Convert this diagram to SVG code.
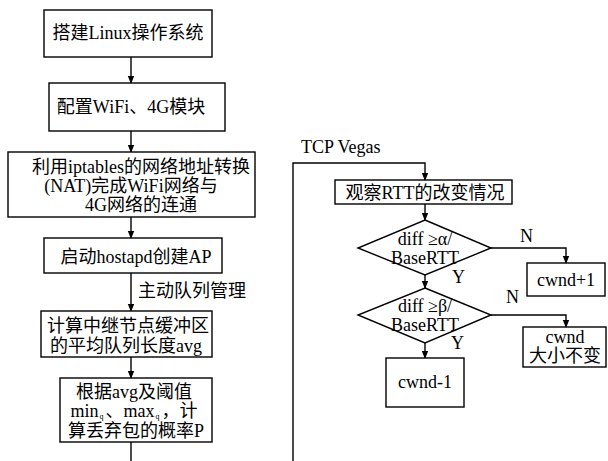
<svg xmlns="http://www.w3.org/2000/svg" width="608" height="461" viewBox="0 0 608 461">
<style>
.b{fill:#fff;stroke:#000;stroke-width:1.4}
.l{fill:none;stroke:#000;stroke-width:1.4}
text{font-family:"Liberation Serif","Noto Sans CJK SC",serif;font-size:18px;fill:#000}
.m{text-anchor:middle}
</style>
<defs>
<marker id="a" markerWidth="8" markerHeight="8" refX="7" refY="4" orient="auto" markerUnits="userSpaceOnUse">
<path d="M0,0.8 L8,4 L0,7.2 Z" fill="#000"/>
</marker>
</defs>
<rect width="608" height="461" fill="#fff"/>
<g id="connectors">
<line class="l" x1="131" y1="57" x2="131" y2="83" marker-end="url(#a)"/>
<line class="l" x1="131" y1="131" x2="131" y2="152" marker-end="url(#a)"/>
<line class="l" x1="131" y1="217" x2="131" y2="238" marker-end="url(#a)"/>
<line class="l" x1="131" y1="273" x2="131" y2="311" marker-end="url(#a)"/>
<line class="l" x1="131" y1="357" x2="131" y2="378" marker-end="url(#a)"/>
<line class="l" x1="131" y1="442" x2="131" y2="461"/>
<polyline class="l" points="293,461 293,163 425,163 425,180" marker-end="url(#a)"/>
<line class="l" x1="425" y1="204" x2="425" y2="220" marker-end="url(#a)"/>
<line class="l" x1="425" y1="275" x2="425" y2="288" marker-end="url(#a)"/>
<polyline class="l" points="491,248 566,248 566,263" marker-end="url(#a)"/>
<polyline class="l" points="491,315 566,315 566,327" marker-end="url(#a)"/>
<line class="l" x1="425" y1="343" x2="425" y2="358" marker-end="url(#a)"/>
<text x="138" y="297">主动队列管理</text>
<text x="301" y="153">TCP Vegas</text>
<text x="520" y="242">N</text>
<text x="452" y="283">Y</text>
<text x="506" y="303">N</text>
<text x="451" y="349">Y</text>
</g>
<g id="n1"><rect class="b" x="44" y="10" width="168" height="47"/><text class="m" x="128" y="39">搭建Linux操作系统</text></g>
<g id="n2"><rect class="b" x="49" y="83" width="176" height="48"/><text class="m" x="131" y="113">配置WiFi、4G模块</text></g>
<g id="n3"><rect class="b" x="8" y="152" width="247" height="65"/>
<text class="m" x="141" y="173">利用iptables的网络地址转换</text>
<text class="m" x="131" y="192">(NAT)完成WiFi网络与</text>
<text class="m" x="141" y="211">4G网络的连通</text></g>
<g id="n4"><rect class="b" x="44" y="238" width="178" height="35"/><text class="m" x="136" y="263">启动hostapd创建AP</text></g>
<g id="n5"><rect class="b" x="41" y="311" width="171" height="46"/>
<text class="m" x="128" y="332">计算中继节点缓冲区</text>
<text class="m" x="126" y="352">的平均队列长度avg</text></g>
<g id="n6"><rect class="b" x="60" y="378" width="152" height="64"/>
<text class="m" x="134" y="398">根据avg及阈值</text>
<text class="m" x="134" y="417">min<tspan font-size="8" dx="1" dy="2">q</tspan><tspan dx="2" dy="-2">、max</tspan><tspan font-size="8" dx="1" dy="2">q</tspan><tspan dx="2" dy="-2">，计</tspan></text>
<text class="m" x="136" y="437">算丢弃包的概率P</text></g>
<g id="r1"><rect class="b" x="335" y="180" width="177" height="24"/><text class="m" x="425" y="199">观察RTT的改变情况</text></g>
<g id="d1"><polygon class="b" points="425,220 491,248 425,275 358,248"/>
<text class="m" x="425" y="245">diff ≥α/</text><text class="m" x="425" y="264">BaseRTT</text></g>
<g id="r2"><rect class="b" x="527" y="263" width="78" height="33"/><text class="m" x="566" y="286">cwnd+1</text></g>
<g id="d2"><polygon class="b" points="425,288 491,315 425,343 358,315"/>
<text class="m" x="425" y="312">diff ≥β/</text><text class="m" x="425" y="331">BaseRTT</text></g>
<g id="r3"><rect class="b" x="523" y="327" width="83" height="40"/>
<text class="m" x="565" y="343">cwnd</text><text class="m" x="565" y="362">大小不变</text></g>
<g id="r4"><rect class="b" x="386" y="358" width="78" height="49"/><text class="m" x="425" y="388">cwnd-1</text></g>
</svg>
